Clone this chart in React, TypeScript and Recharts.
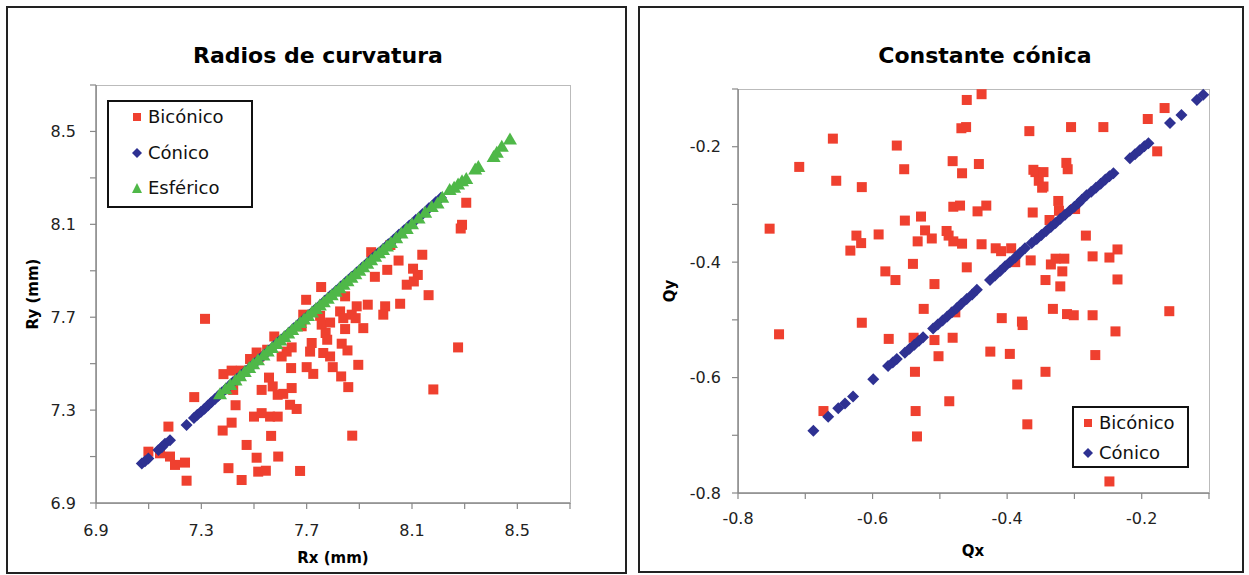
import React from "react";
import { ScatterChart, Scatter, XAxis, YAxis } from "recharts";

const RED = "#ef402f";
const BLUE = "#2e3192";
const GREEN = "#4fb848";
const FONT = "DejaVu Sans";

// Radios de curvatura (mm)
const rTicks = [6.9, 7.1, 7.3, 7.5, 7.7, 7.9, 8.1, 8.3, 8.5, 8.7];
const rTickLabels = ["6.9", "", "7.3", "", "7.7", "", "8.1", "", "8.5", ""];

const radiosBiconico = [
  { x: 7.314, y: 7.693 }, { x: 7.273, y: 7.356 }, { x: 7.175, y: 7.229 }, { x: 7.099, y: 7.121 },
  { x: 7.143, y: 7.114 }, { x: 7.181, y: 7.1 }, { x: 7.2, y: 7.064 }, { x: 7.238, y: 7.074 },
  { x: 7.244, y: 6.996 }, { x: 7.403, y: 7.05 }, { x: 7.453, y: 6.999 }, { x: 7.472, y: 7.15 },
  { x: 7.51, y: 7.095 }, { x: 7.516, y: 7.035 }, { x: 7.545, y: 7.039 }, { x: 7.592, y: 7.1 },
  { x: 7.675, y: 7.038 }, { x: 7.565, y: 7.189 }, { x: 7.381, y: 7.212 }, { x: 7.415, y: 7.246 },
  { x: 7.5, y: 7.272 }, { x: 7.529, y: 7.287 }, { x: 7.561, y: 7.272 }, { x: 7.59, y: 7.272 },
  { x: 7.43, y: 7.321 }, { x: 7.421, y: 7.387 }, { x: 7.384, y: 7.455 }, { x: 7.415, y: 7.47 },
  { x: 7.485, y: 7.52 }, { x: 7.51, y: 7.548 }, { x: 7.529, y: 7.387 }, { x: 7.557, y: 7.44 },
  { x: 7.571, y: 7.402 }, { x: 7.59, y: 7.366 }, { x: 7.611, y: 7.37 }, { x: 7.643, y: 7.395 },
  { x: 7.637, y: 7.323 }, { x: 7.662, y: 7.305 }, { x: 7.641, y: 7.481 }, { x: 7.577, y: 7.617 },
  { x: 7.605, y: 7.531 }, { x: 7.624, y: 7.552 }, { x: 7.643, y: 7.57 }, { x: 7.687, y: 7.711 },
  { x: 7.698, y: 7.775 }, { x: 7.7, y: 7.485 }, { x: 7.725, y: 7.456 }, { x: 7.713, y: 7.552 },
  { x: 7.719, y: 7.589 }, { x: 7.755, y: 7.83 }, { x: 7.757, y: 7.668 }, { x: 7.763, y: 7.546 },
  { x: 7.789, y: 7.531 }, { x: 7.772, y: 7.632 }, { x: 7.778, y: 7.603 }, { x: 7.827, y: 7.725 },
  { x: 7.833, y: 7.586 }, { x: 7.855, y: 7.557 }, { x: 7.831, y: 7.445 }, { x: 7.858, y: 7.399 },
  { x: 7.799, y: 7.485 }, { x: 7.846, y: 7.649 }, { x: 7.839, y: 7.696 }, { x: 7.871, y: 7.711 },
  { x: 7.89, y: 7.747 }, { x: 7.886, y: 7.696 }, { x: 7.915, y: 7.653 }, { x: 7.932, y: 7.754 },
  { x: 7.896, y: 7.495 }, { x: 7.873, y: 7.19 }, { x: 7.846, y: 7.79 }, { x: 7.998, y: 7.747 },
  { x: 7.991, y: 7.711 }, { x: 8.055, y: 7.758 }, { x: 8.08, y: 7.84 }, { x: 7.681, y: 7.661 },
  { x: 7.751, y: 7.706 }, { x: 7.789, y: 7.677 }, { x: 7.45, y: 7.47 }, { x: 7.52, y: 7.53 },
  { x: 7.55, y: 7.56 }, { x: 8.306, y: 8.193 }, { x: 8.29, y: 8.098 }, { x: 8.285, y: 8.082 },
  { x: 8.139, y: 7.969 }, { x: 8.049, y: 7.944 }, { x: 8.006, y: 7.904 }, { x: 7.959, y: 7.874 },
  { x: 7.945, y: 7.98 }, { x: 8.104, y: 7.909 }, { x: 8.122, y: 7.882 }, { x: 8.107, y: 7.854 },
  { x: 8.163, y: 7.795 }, { x: 8.275, y: 7.57 }, { x: 8.181, y: 7.389 }, { x: 8.018, y: 8.011 },
];

const radiosConico = [
  { x: 7.074, y: 7.07 }, { x: 7.086, y: 7.08 }, { x: 7.099, y: 7.092 }, { x: 7.137, y: 7.128 },
  { x: 7.15, y: 7.14 }, { x: 7.162, y: 7.155 }, { x: 7.181, y: 7.17 }, { x: 7.244, y: 7.236 },
  { x: 7.272, y: 7.266 }, { x: 7.285, y: 7.28 }, { x: 7.298, y: 7.292 }, { x: 7.312, y: 7.306 },
  { x: 7.325, y: 7.32 }, { x: 7.338, y: 7.334 }, { x: 7.352, y: 7.348 }, { x: 7.365, y: 7.362 },
  { x: 7.378, y: 7.376 }, { x: 7.392, y: 7.39 }, { x: 7.405, y: 7.404 }, { x: 7.42, y: 7.42 },
  { x: 7.436, y: 7.435 }, { x: 7.452, y: 7.451 }, { x: 7.468, y: 7.467 }, { x: 7.485, y: 7.484 },
  { x: 7.502, y: 7.501 }, { x: 7.52, y: 7.519 }, { x: 7.538, y: 7.537 }, { x: 7.556, y: 7.556 },
  { x: 7.575, y: 7.575 }, { x: 7.594, y: 7.594 }, { x: 7.613, y: 7.613 }, { x: 7.632, y: 7.632 },
  { x: 7.651, y: 7.652 }, { x: 7.67, y: 7.671 }, { x: 7.69, y: 7.691 }, { x: 7.71, y: 7.711 },
  { x: 7.73, y: 7.731 }, { x: 7.75, y: 7.751 }, { x: 7.77, y: 7.772 }, { x: 7.79, y: 7.792 },
  { x: 7.81, y: 7.812 }, { x: 7.83, y: 7.832 }, { x: 7.85, y: 7.853 }, { x: 7.87, y: 7.873 },
  { x: 7.89, y: 7.893 }, { x: 7.91, y: 7.913 }, { x: 7.93, y: 7.933 }, { x: 7.95, y: 7.954 },
  { x: 7.97, y: 7.974 }, { x: 7.99, y: 7.994 }, { x: 8.01, y: 8.014 }, { x: 8.03, y: 8.034 },
  { x: 8.05, y: 8.055 }, { x: 8.07, y: 8.075 }, { x: 8.09, y: 8.095 }, { x: 8.115, y: 8.12 },
  { x: 8.14, y: 8.145 }, { x: 8.165, y: 8.17 }, { x: 8.19, y: 8.195 }, { x: 8.21, y: 8.215 },
];

const radiosEsferico = [
  { x: 7.371, y: 7.368 }, { x: 7.392, y: 7.39 }, { x: 7.41, y: 7.408 }, { x: 7.43, y: 7.428 },
  { x: 7.447, y: 7.446 }, { x: 7.465, y: 7.464 }, { x: 7.482, y: 7.481 }, { x: 7.497, y: 7.497 },
  { x: 7.515, y: 7.515 }, { x: 7.536, y: 7.535 }, { x: 7.552, y: 7.552 }, { x: 7.568, y: 7.568 },
  { x: 7.585, y: 7.585 }, { x: 7.6, y: 7.6 }, { x: 7.615, y: 7.615 }, { x: 7.63, y: 7.63 },
  { x: 7.645, y: 7.645 }, { x: 7.66, y: 7.66 }, { x: 7.675, y: 7.675 }, { x: 7.69, y: 7.69 },
  { x: 7.705, y: 7.705 }, { x: 7.72, y: 7.72 }, { x: 7.735, y: 7.735 }, { x: 7.75, y: 7.75 },
  { x: 7.765, y: 7.765 }, { x: 7.78, y: 7.78 }, { x: 7.795, y: 7.795 }, { x: 7.81, y: 7.81 },
  { x: 7.825, y: 7.825 }, { x: 7.84, y: 7.84 }, { x: 7.855, y: 7.855 }, { x: 7.87, y: 7.87 },
  { x: 7.885, y: 7.885 }, { x: 7.9, y: 7.9 }, { x: 7.915, y: 7.915 }, { x: 7.93, y: 7.93 },
  { x: 7.945, y: 7.945 }, { x: 7.96, y: 7.96 }, { x: 7.975, y: 7.975 }, { x: 7.99, y: 7.99 },
  { x: 8.005, y: 8.005 }, { x: 8.02, y: 8.02 }, { x: 8.04, y: 8.04 }, { x: 8.06, y: 8.06 },
  { x: 8.08, y: 8.08 }, { x: 8.1, y: 8.1 }, { x: 8.125, y: 8.125 }, { x: 8.15, y: 8.15 },
  { x: 8.175, y: 8.175 }, { x: 8.197, y: 8.19 }, { x: 8.215, y: 8.214 }, { x: 8.243, y: 8.248 },
  { x: 8.26, y: 8.258 }, { x: 8.275, y: 8.271 }, { x: 8.29, y: 8.285 }, { x: 8.306, y: 8.295 },
  { x: 8.34, y: 8.336 }, { x: 8.352, y: 8.347 }, { x: 8.41, y: 8.39 }, { x: 8.422, y: 8.408 },
  { x: 8.441, y: 8.434 }, { x: 8.472, y: 8.465 },
];

// Constante cónica
const qTicks = [-0.8, -0.7, -0.6, -0.5, -0.4, -0.3, -0.2, -0.1];
const qTickLabels = ["-0.8", "", "-0.6", "", "-0.4", "", "-0.2", ""];

const conicaBiconico = [
  { x: -0.753, y: -0.342 }, { x: -0.739, y: -0.525 }, { x: -0.709, y: -0.235 }, { x: -0.659, y: -0.186 },
  { x: -0.654, y: -0.259 }, { x: -0.616, y: -0.27 }, { x: -0.633, y: -0.38 }, { x: -0.624, y: -0.354 },
  { x: -0.617, y: -0.367 }, { x: -0.616, y: -0.505 }, { x: -0.591, y: -0.352 }, { x: -0.581, y: -0.416 },
  { x: -0.576, y: -0.533 }, { x: -0.566, y: -0.431 }, { x: -0.564, y: -0.198 }, { x: -0.553, y: -0.239 },
  { x: -0.552, y: -0.328 }, { x: -0.54, y: -0.403 }, { x: -0.537, y: -0.59 }, { x: -0.536, y: -0.658 },
  { x: -0.534, y: -0.702 }, { x: -0.539, y: -0.531 }, { x: -0.533, y: -0.364 }, { x: -0.528, y: -0.321 },
  { x: -0.524, y: -0.481 }, { x: -0.522, y: -0.345 }, { x: -0.512, y: -0.359 }, { x: -0.508, y: -0.438 },
  { x: -0.508, y: -0.535 }, { x: -0.502, y: -0.563 }, { x: -0.49, y: -0.346 }, { x: -0.486, y: -0.641 },
  { x: -0.487, y: -0.354 }, { x: -0.481, y: -0.225 }, { x: -0.48, y: -0.304 }, { x: -0.48, y: -0.364 },
  { x: -0.481, y: -0.531 }, { x: -0.477, y: -0.487 }, { x: -0.47, y: -0.302 }, { x: -0.468, y: -0.168 },
  { x: -0.467, y: -0.246 }, { x: -0.467, y: -0.368 }, { x: -0.461, y: -0.166 }, { x: -0.46, y: -0.119 },
  { x: -0.46, y: -0.409 }, { x: -0.444, y: -0.312 }, { x: -0.442, y: -0.23 }, { x: -0.438, y: -0.109 },
  { x: -0.438, y: -0.369 }, { x: -0.431, y: -0.302 }, { x: -0.425, y: -0.555 }, { x: -0.417, y: -0.376 },
  { x: -0.409, y: -0.381 }, { x: -0.408, y: -0.497 }, { x: -0.396, y: -0.559 }, { x: -0.394, y: -0.376 },
  { x: -0.388, y: -0.4 }, { x: -0.385, y: -0.612 }, { x: -0.378, y: -0.503 }, { x: -0.377, y: -0.509 },
  { x: -0.37, y: -0.681 }, { x: -0.367, y: -0.173 }, { x: -0.365, y: -0.397 }, { x: -0.362, y: -0.314 },
  { x: -0.358, y: -0.244 }, { x: -0.353, y: -0.259 }, { x: -0.348, y: -0.271 }, { x: -0.346, y: -0.244 },
  { x: -0.343, y: -0.59 }, { x: -0.343, y: -0.431 }, { x: -0.337, y: -0.327 }, { x: -0.335, y: -0.404 },
  { x: -0.332, y: -0.481 }, { x: -0.328, y: -0.394 }, { x: -0.324, y: -0.294 }, { x: -0.323, y: -0.311 },
  { x: -0.321, y: -0.442 }, { x: -0.318, y: -0.416 }, { x: -0.315, y: -0.394 }, { x: -0.312, y: -0.228 },
  { x: -0.31, y: -0.239 }, { x: -0.311, y: -0.49 }, { x: -0.305, y: -0.166 }, { x: -0.301, y: -0.492 },
  { x: -0.299, y: -0.308 }, { x: -0.283, y: -0.354 }, { x: -0.273, y: -0.39 }, { x: -0.273, y: -0.492 },
  { x: -0.269, y: -0.561 }, { x: -0.257, y: -0.166 }, { x: -0.248, y: -0.392 }, { x: -0.248, y: -0.78 },
  { x: -0.239, y: -0.52 }, { x: -0.236, y: -0.378 }, { x: -0.236, y: -0.43 }, { x: -0.191, y: -0.152 },
  { x: -0.177, y: -0.208 }, { x: -0.166, y: -0.133 }, { x: -0.159, y: -0.485 }, { x: -0.673, y: -0.658 },
  { x: -0.346, y: -0.269 }, { x: -0.361, y: -0.24 },
];

const conicaConico = [
  { x: -0.688, y: -0.692 }, { x: -0.666, y: -0.668 }, { x: -0.651, y: -0.653 }, { x: -0.641, y: -0.645 },
  { x: -0.629, y: -0.633 }, { x: -0.599, y: -0.603 }, { x: -0.577, y: -0.58 }, { x: -0.57, y: -0.574 },
  { x: -0.564, y: -0.568 }, { x: -0.552, y: -0.557 }, { x: -0.545, y: -0.55 }, { x: -0.538, y: -0.543 },
  { x: -0.531, y: -0.536 }, { x: -0.525, y: -0.53 }, { x: -0.51, y: -0.515 }, { x: -0.503, y: -0.508 },
  { x: -0.496, y: -0.501 }, { x: -0.489, y: -0.494 }, { x: -0.482, y: -0.487 }, { x: -0.475, y: -0.48 },
  { x: -0.468, y: -0.472 }, { x: -0.46, y: -0.464 }, { x: -0.452, y: -0.456 }, { x: -0.445, y: -0.448 },
  { x: -0.4255, y: -0.431 }, { x: -0.418, y: -0.423 }, { x: -0.41, y: -0.415 }, { x: -0.403, y: -0.407 },
  { x: -0.396, y: -0.4 }, { x: -0.388, y: -0.392 }, { x: -0.381, y: -0.384 }, { x: -0.3735, y: -0.376 },
  { x: -0.3635, y: -0.367 }, { x: -0.356, y: -0.36 }, { x: -0.349, y: -0.353 }, { x: -0.342, y: -0.346 },
  { x: -0.335, y: -0.339 }, { x: -0.328, y: -0.332 }, { x: -0.321, y: -0.325 }, { x: -0.314, y: -0.318 },
  { x: -0.307, y: -0.311 }, { x: -0.3, y: -0.304 }, { x: -0.294, y: -0.298 }, { x: -0.289, y: -0.292 },
  { x: -0.282, y: -0.284 }, { x: -0.275, y: -0.278 }, { x: -0.268, y: -0.271 }, { x: -0.261, y: -0.264 },
  { x: -0.254, y: -0.257 }, { x: -0.248, y: -0.251 }, { x: -0.242, y: -0.246 }, { x: -0.2175, y: -0.22 },
  { x: -0.21, y: -0.213 }, { x: -0.203, y: -0.206 }, { x: -0.196, y: -0.199 }, { x: -0.19, y: -0.194 },
  { x: -0.158, y: -0.159 }, { x: -0.141, y: -0.145 }, { x: -0.118, y: -0.119 }, { x: -0.1085, y: -0.11 },
];

const Square = (props: any) => {
  const { cx, cy } = props;
  return <rect x={cx - 5} y={cy - 5} width={10} height={10} fill={RED} />;
};

const Diamond = (props: any) => {
  const { cx, cy } = props;
  return (
    <polygon
      points={`${cx},${cy - 6} ${cx + 6},${cy} ${cx},${cy + 6} ${cx - 6},${cy}`}
      fill={BLUE}
    />
  );
};

const Triangle = (props: any) => {
  const { cx, cy } = props;
  return (
    <polygon
      points={`${cx},${cy - 7} ${cx + 7},${cy + 5} ${cx - 7},${cy + 5}`}
      fill={GREEN}
    />
  );
};

const tickStyle = { fill: "#222", fontSize: 16, fontFamily: FONT };
const axisLine = { stroke: "#888", strokeWidth: 1.5 };
const tickLine = { stroke: "#888", strokeWidth: 1.2 };

const abs = (s: React.CSSProperties): React.CSSProperties => ({ position: "absolute", ...s });

function LegendRow({ top, left, marker, label }: { top: number; left: number; marker: React.ReactNode; label: string }) {
  return (
    <div style={abs({ top: top - 11, left, height: 22, display: "flex", alignItems: "center" })}>
      <svg width={14} height={14} style={{ marginRight: 4 }}>
        {marker}
      </svg>
      <span style={{ fontSize: 18, lineHeight: "22px", color: "#111" }}>{label}</span>
    </div>
  );
}

export default function App() {
  return (
    <div style={abs({ left: 0, top: 0, width: 1249, height: 575, background: "#fff", fontFamily: FONT })}>
      {/* panel frames */}
      <div style={abs({ left: 6, top: 6, width: 621, height: 568, border: "2px solid #222", boxSizing: "border-box" })} />
      <div style={abs({ left: 638, top: 6, width: 606, height: 567, border: "2px solid #222", boxSizing: "border-box" })} />

      {/* plot area borders */}
      <div style={abs({ left: 96, top: 85, width: 475, height: 419, border: "1.5px solid #bbb", boxSizing: "border-box" })} />
      <div style={abs({ left: 738, top: 89, width: 472, height: 405, border: "1.5px solid #bbb", boxSizing: "border-box" })} />

      {/* titles */}
      <div style={abs({ left: 118, top: 45, width: 400, textAlign: "center", fontSize: 22, fontWeight: "bold", lineHeight: 1 })}>
        Radios de curvatura
      </div>
      <div style={abs({ left: 785, top: 45, width: 400, textAlign: "center", fontSize: 22, fontWeight: "bold", lineHeight: 1 })}>
        Constante cónica
      </div>

      {/* axis titles */}
      <div style={abs({ left: 233, top: 551, width: 200, textAlign: "center", fontSize: 15, fontWeight: "bold", lineHeight: 1 })}>
        Rx (mm)
      </div>
      <div style={abs({ left: 33, top: 294, transform: "translate(-50%,-50%) rotate(-90deg)", whiteSpace: "nowrap", fontSize: 15, fontWeight: "bold", lineHeight: 1 })}>
        Ry (mm)
      </div>
      <div style={abs({ left: 873, top: 544, width: 200, textAlign: "center", fontSize: 15, fontWeight: "bold", lineHeight: 1 })}>
        Qx
      </div>
      <div style={abs({ left: 670, top: 291, transform: "translate(-50%,-50%) rotate(-90deg)", whiteSpace: "nowrap", fontSize: 15, fontWeight: "bold", lineHeight: 1 })}>
        Qy
      </div>

      <div style={abs({ left: 0, top: 0 })}>
        <ScatterChart width={627} height={575} margin={{ top: 85, right: 57, bottom: 32, left: 0 }}>
          <XAxis
            type="number"
            dataKey="x"
            domain={[6.9, 8.7]}
            ticks={rTicks}
            interval={0}
            tickFormatter={(v: number, i: number) => rTickLabels[i]}
            tick={tickStyle}
            tickSize={6}
            tickMargin={16}
            axisLine={axisLine}
            tickLine={tickLine}
            height={40}
          />
          <YAxis
            type="number"
            dataKey="y"
            domain={[6.9, 8.7]}
            ticks={rTicks}
            interval={0}
            tickFormatter={(v: number, i: number) => rTickLabels[i]}
            tick={tickStyle}
            tickSize={6}
            tickMargin={14}
            axisLine={axisLine}
            tickLine={tickLine}
            width={96}
          />
          <Scatter name="Bicónico" data={radiosBiconico} shape={Square} isAnimationActive={false} />
          <Scatter name="Cónico" data={radiosConico} shape={Diamond} isAnimationActive={false} />
          <Scatter name="Esférico" data={radiosEsferico} shape={Triangle} isAnimationActive={false} />
        </ScatterChart>
      </div>

      <div style={abs({ left: 638, top: 0 })}>
        <ScatterChart width={611} height={575} margin={{ top: 89, right: 40, bottom: 42, left: 0 }}>
          <XAxis
            type="number"
            dataKey="x"
            domain={[-0.8, -0.1]}
            ticks={qTicks}
            interval={0}
            tickFormatter={(v: number, i: number) => qTickLabels[i]}
            tick={tickStyle}
            tickSize={6}
            tickMargin={14}
            axisLine={axisLine}
            tickLine={tickLine}
            height={40}
          />
          <YAxis
            type="number"
            dataKey="y"
            domain={[-0.8, -0.1]}
            ticks={qTicks}
            interval={0}
            tickFormatter={(v: number, i: number) => qTickLabels[i]}
            tick={tickStyle}
            tickSize={6}
            tickMargin={11}
            axisLine={axisLine}
            tickLine={tickLine}
            width={100}
          />
          <Scatter name="Bicónico" data={conicaBiconico} shape={Square} isAnimationActive={false} />
          <Scatter name="Cónico" data={conicaConico} shape={Diamond} isAnimationActive={false} />
        </ScatterChart>
      </div>

      {/* legends */}
      <div style={abs({ left: 107, top: 100, width: 146, height: 108, border: "2px solid #111", boxSizing: "border-box", background: "#fff" })} />
      <LegendRow top={117} left={130} label="Bicónico" marker={<rect x={3} y={3} width={8} height={8} fill={RED} />} />
      <LegendRow top={153} left={130} label="Cónico" marker={<polygon points="7,2 12,7 7,12 2,7" fill={BLUE} />} />
      <LegendRow top={188} left={130} label="Esférico" marker={<polygon points="7,2 12,12 2,12" fill={GREEN} />} />

      <div style={abs({ left: 1072, top: 406, width: 117, height: 62, border: "2px solid #111", boxSizing: "border-box", background: "#fff" })} />
      <LegendRow top={423} left={1081} label="Bicónico" marker={<rect x={3} y={3} width={8} height={8} fill={RED} />} />
      <LegendRow top={453} left={1081} label="Cónico" marker={<polygon points="7,2 12,7 7,12 2,7" fill={BLUE} />} />
    </div>
  );
}
